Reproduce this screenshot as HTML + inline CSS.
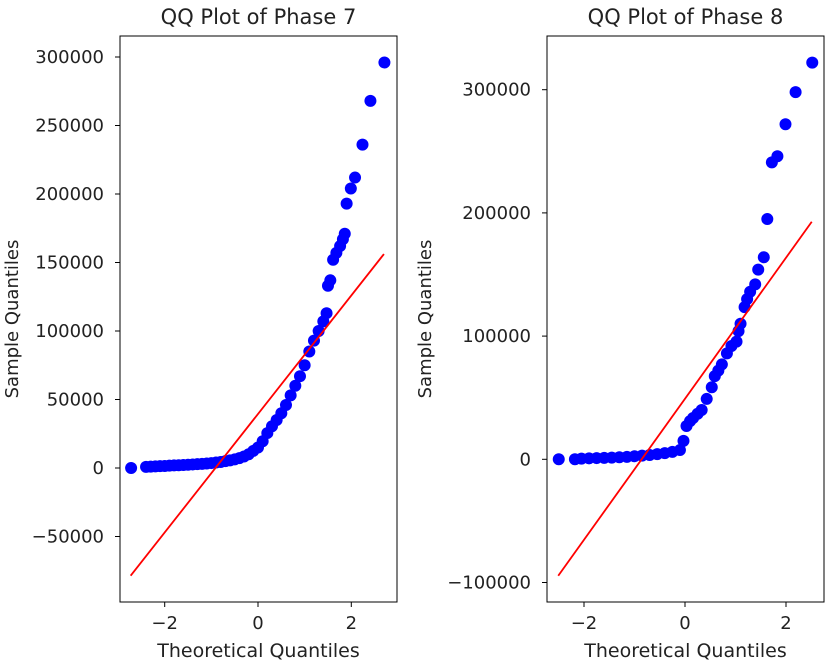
<!DOCTYPE html>
<html><head><meta charset="utf-8"><style>
html,body{margin:0;padding:0;background:#fff;}
svg{display:block;font-family:"DejaVu Sans","Liberation Sans",sans-serif;}
</style></head><body>
<svg id="fig" width="835" height="663" viewBox="0 0 835 663"></svg>
<script>
// Phase 7 data (theoretical quantile, sample quantile)
const p7x = [-2.72,-2.4,-2.3,-2.2,-2.1,-2.0,-1.9,-1.8,-1.7,-1.6,-1.5,-1.4,-1.3,-1.2,-1.1,-1.0,-0.9,-0.8,-0.7,-0.6,-0.5,-0.4,-0.3,-0.2,-0.1,0,0.1,0.2,0.3,0.4,0.5,0.6,0.7,0.8,0.9,1.0,1.1,1.2,1.3,1.4,1.47,1.5,1.55,1.61,1.68,1.76,1.82,1.86,1.9,1.99,2.08,2.24,2.41,2.71];
const p7y = [0,800,1000,1200,1400,1500,1700,1900,2000,2200,2400,2600,2800,3000,3300,3600,4000,4400,5000,5600,6300,7200,8400,10000,12500,15000,19500,25500,30500,35000,40000,46000,53000,60000,67000,75000,85000,93000,100000,107000,113000,133000,137000,152000,157000,162000,167000,171000,193000,204000,212000,236000,268000,296000];
const p7line = [-2.73,-78600,2.70,156200];
const p7yticks = [-50000,0,50000,100000,150000,200000,250000,300000];
const p7xticks = [-2,0,2];
// Phase 8 data
const p8x = [-2.5,-2.18,-2.05,-1.9,-1.75,-1.6,-1.45,-1.3,-1.15,-1.0,-0.85,-0.7,-0.55,-0.4,-0.25,-0.1,-0.03,0.03,0.1,0.16,0.25,0.33,0.43,0.53,0.59,0.66,0.73,0.83,0.92,1.02,1.06,1.1,1.18,1.23,1.29,1.39,1.45,1.56,1.63,1.72,1.83,1.99,2.19,2.52];
const p8y = [0,0,500,800,1000,1200,1400,1700,2000,2500,3000,3500,4200,5000,6000,7500,15000,27000,31000,33500,37000,40000,49000,58500,67500,72000,77000,86000,92000,95500,104000,110000,123500,130000,136000,142000,154000,164000,195000,241000,246000,272000,298000,322000];
const p8line = [-2.51,-94500,2.51,192800];
const p8yticks = [-100000,0,100000,200000,300000];
const p8xticks = [-2,0,2];

const NS="http://www.w3.org/2000/svg";
const svg=document.getElementById('fig');
function mk(tag,attrs,parent){const e=document.createElementNS(NS,tag);for(const k in attrs)e.setAttribute(k,attrs[k]);(parent||svg).appendChild(e);return e;}

function panel(cfg){
  const g=mk('g',{});
  
  
  const sx=v=>cfg.x0px+v*cfg.xs;
  const sy=v=>cfg.y0px-v*cfg.ys;
  cfg.yticks.forEach(t=>{
    const y=sy(t);
    const tk=mk('line',{x1:cfg.L-5,x2:cfg.L,y1:y,y2:y,stroke:'#000','stroke-width':1},g);
    
    
    const lb=mk('text',{x:cfg.L-16,y:y+6,'text-anchor':'end','font-size':'18',fill:'#222'},g);
    lb.textContent=(t<0?'\u2212'+(-t):String(t));
    
    
  });
  cfg.xticks.forEach(t=>{
    const x=sx(t);
    const tk=mk('line',{x1:x,x2:x,y1:cfg.B,y2:cfg.B+5,stroke:'#000','stroke-width':1},g);
    
    
    const lb=mk('text',{x:x,y:cfg.B+27,'text-anchor':'middle','font-size':'18',fill:'#222'},g);
    lb.textContent=(t<0?'\u2212'+(-t):String(t));
    
    
  });
  const cp=mk('clipPath',{id:cfg.name+'-clip'},g);
  mk('rect',{x:cfg.L,y:cfg.T,width:cfg.R-cfg.L,height:cfg.B-cfg.T},cp);
  const pts=mk('g',{'clip-path':'url(#'+cfg.name+'-clip)'},g);
  
  
  cfg.xs_data.forEach((v,i)=>{
    const c=mk('circle',{cx:sx(v),cy:sy(cfg.ys_data[i]),r:6,fill:'#0000ff'},pts);
    
    
  });
  const l=cfg.line;
  const ln=mk('line',{x1:sx(l[0]),y1:sy(l[1]),x2:sx(l[2]),y2:sy(l[3]),stroke:'#ff0000','stroke-width':1.8},g);
  
  
  const fr=mk('rect',{x:cfg.L,y:cfg.T,width:cfg.R-cfg.L,height:cfg.B-cfg.T,fill:'none',stroke:'#000','stroke-width':1},g);
  
  
  const ti=mk('text',{x:(cfg.L+cfg.R)/2,y:24,'text-anchor':'middle','font-size':'21',fill:'#222'},g);
  ti.textContent=cfg.title;
  
  
  const xl=mk('text',{x:(cfg.L+cfg.R)/2,y:657,'text-anchor':'middle','font-size':'19',fill:'#222'},g);
  xl.textContent='Theoretical Quantiles';
  
  
  const cy=(cfg.T+cfg.B)/2;
  const yl=mk('text',{x:cfg.ylx,y:cy,'text-anchor':'middle','font-size':'18',fill:'#222',transform:'rotate(-90 '+cfg.ylx+' '+cy+')'},g);
  yl.textContent='Sample Quantiles';
  
  
}

panel({name:'phase-7-panel',title:'QQ Plot of Phase 7',L:120,R:397,T:36,B:602,
  x0px:258,xs:46.65,y0px:468,ys:68.5/50000,yticks:p7yticks,xticks:p7xticks,
  xs_data:p7x,ys_data:p7y,line:p7line,ylx:18});
panel({name:'phase-8-panel',title:'QQ Plot of Phase 8',L:547,R:824,T:36,B:602,
  x0px:685,xs:50.5,y0px:459.3,ys:123.2/100000,yticks:p8yticks,xticks:p8xticks,
  xs_data:p8x,ys_data:p8y,line:p8line,ylx:431});
</script>
</body></html>
